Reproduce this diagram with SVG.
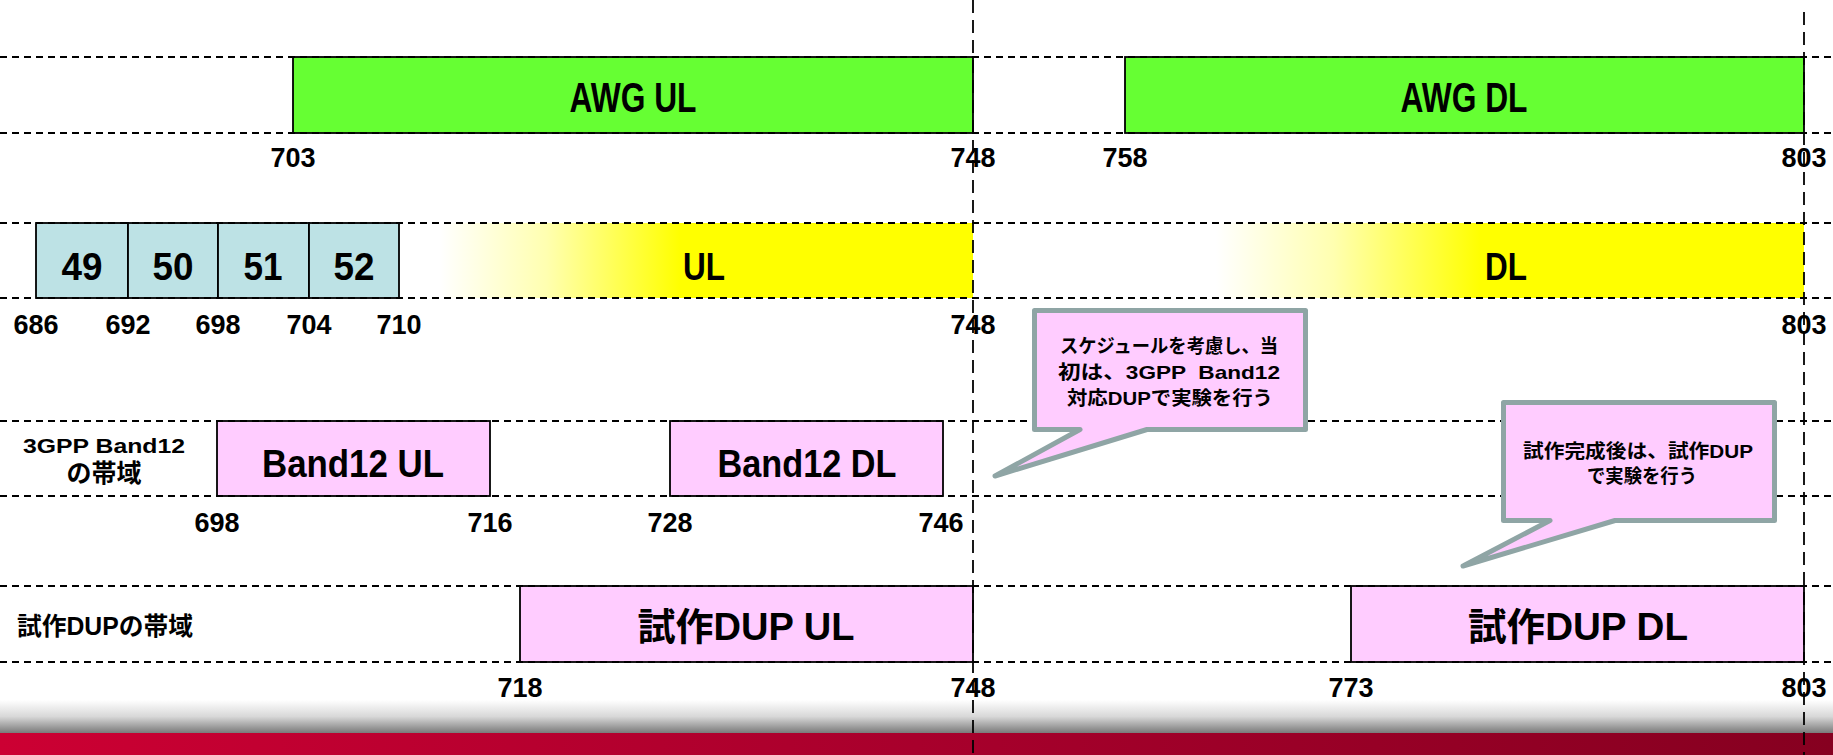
<svg xmlns="http://www.w3.org/2000/svg" width="1833" height="755" viewBox="0 0 1833 755">
<defs>
<linearGradient id="yfade" x1="0" y1="0" x2="1" y2="0">
<stop offset="0" stop-color="#ffffff"/>
<stop offset="0.2" stop-color="#ffffb0"/>
<stop offset="0.45" stop-color="#ffff00"/>
<stop offset="1" stop-color="#ffff00"/>
</linearGradient>
<linearGradient id="shadow" x1="0" y1="0" x2="0" y2="1">
<stop offset="0" stop-color="#ffffff"/>
<stop offset="0.5" stop-color="#d8d8d8"/>
<stop offset="1" stop-color="#7a7a7a"/>
</linearGradient>
<linearGradient id="red" x1="0" y1="0" x2="1" y2="0">
<stop offset="0" stop-color="#cc0033"/>
<stop offset="0.5" stop-color="#a8002c"/>
<stop offset="1" stop-color="#860020"/>
</linearGradient>
<style>
.box{stroke:#000;stroke-width:1.8}
.green{fill:#66ff33}
.blue{fill:#bde2e5}
.pink{fill:#ffccff}
.hd{stroke:#000;stroke-width:2;stroke-dasharray:7 5;fill:none}
.vd{stroke:#000;stroke-width:1.8;stroke-dasharray:13 7;fill:none}
.big{font-family:"Liberation Sans","Noto Sans CJK JP",sans-serif;font-weight:bold;text-anchor:middle;fill:#000}
.num{font-family:"Liberation Sans",sans-serif;font-weight:bold;font-size:27px;text-anchor:middle;fill:#000}
.lbl{font-family:"Liberation Sans","Noto Sans CJK JP",sans-serif;font-weight:bold;text-anchor:middle;fill:#000}
.call{fill:#ffccff;stroke:#8fa5a5;stroke-width:5;stroke-linejoin:round}
.ct{font-family:"Liberation Sans","Noto Sans CJK JP",sans-serif;font-weight:bold;font-size:19px;text-anchor:middle;fill:#000}
</style>
</defs>
<rect x="0" y="0" width="1833" height="755" fill="#ffffff"/>

<g id="footer">
<rect x="0" y="700" width="1833" height="33" fill="url(#shadow)"/>
<rect x="0" y="733" width="1833" height="22" fill="url(#red)"/>
</g>

<g id="awg-ul">
<rect class="box green" x="293" y="57" width="680" height="76"/>
<text class="big" x="633" y="112" font-size="42" textLength="127" lengthAdjust="spacingAndGlyphs">AWG UL</text>
</g>
<g id="awg-dl">
<rect class="box green" x="1125" y="57" width="679" height="76"/>
<text class="big" x="1464" y="112" font-size="42" textLength="127" lengthAdjust="spacingAndGlyphs">AWG DL</text>
</g>

<g id="ul">
<rect x="440" y="223" width="533" height="75" fill="url(#yfade)"/>
<text class="big" x="704" y="280" font-size="38" textLength="42" lengthAdjust="spacingAndGlyphs">UL</text>
</g>
<g id="dl">
<rect x="1216" y="223" width="588" height="75" fill="url(#yfade)"/>
<text class="big" x="1506" y="280" font-size="38" textLength="42" lengthAdjust="spacingAndGlyphs">DL</text>
</g>
<g id="ch49">
<rect class="box blue" x="36" y="223" width="92" height="75"/>
<text class="big" x="82" y="280" font-size="38" textLength="41" lengthAdjust="spacingAndGlyphs">49</text>
</g>
<g id="ch50">
<rect class="box blue" x="128" y="223" width="90" height="75"/>
<text class="big" x="173" y="280" font-size="38" textLength="41" lengthAdjust="spacingAndGlyphs">50</text>
</g>
<g id="ch51">
<rect class="box blue" x="218" y="223" width="91" height="75"/>
<text class="big" x="263" y="280" font-size="38" textLength="39" lengthAdjust="spacingAndGlyphs">51</text>
</g>
<g id="ch52">
<rect class="box blue" x="309" y="223" width="90" height="75"/>
<text class="big" x="354" y="280" font-size="38" textLength="41" lengthAdjust="spacingAndGlyphs">52</text>
</g>

<g id="band12-label">
<text class="lbl" x="104" y="453" font-size="21" textLength="162" lengthAdjust="spacingAndGlyphs">3GPP Band12</text>
<text class="lbl" x="104" y="482" font-size="25">の帯域</text>
</g>
<g id="band12-ul">
<rect class="box pink" x="217" y="421" width="273" height="75"/>
<text class="big" x="353" y="477" font-size="38" textLength="182" lengthAdjust="spacingAndGlyphs">Band12 UL</text>
</g>
<g id="band12-dl">
<rect class="box pink" x="670" y="421" width="273" height="75"/>
<text class="big" x="807" y="477" font-size="38" textLength="179" lengthAdjust="spacingAndGlyphs">Band12 DL</text>
</g>

<g id="dup-label">
<text class="lbl" x="105" y="635" font-size="25" textLength="176" lengthAdjust="spacingAndGlyphs">試作DUPの帯域</text>
</g>
<g id="dup-ul">
<rect class="box pink" x="520" y="586" width="453" height="76"/>
<text class="big" x="746" y="640" font-size="38" textLength="217" lengthAdjust="spacingAndGlyphs">試作DUP UL</text>
</g>
<g id="dup-dl">
<rect class="box pink" x="1351" y="586" width="453" height="76"/>
<text class="big" x="1578" y="640" font-size="38" textLength="220" lengthAdjust="spacingAndGlyphs">試作DUP DL</text>
</g>

<g id="guides">
<line class="hd" x1="0" y1="57" x2="1833" y2="57"/>
<line class="hd" x1="0" y1="133" x2="1833" y2="133"/>
<line class="hd" x1="0" y1="223" x2="1833" y2="223"/>
<line class="hd" x1="0" y1="298" x2="1833" y2="298"/>
<line class="hd" x1="0" y1="421" x2="1833" y2="421"/>
<line class="hd" x1="0" y1="496" x2="1833" y2="496"/>
<line class="hd" x1="0" y1="586" x2="1833" y2="586"/>
<line class="hd" x1="0" y1="662" x2="1833" y2="662"/>
<line class="vd" x1="973" y1="0" x2="973" y2="755"/>
<line class="vd" x1="1804" y1="12" x2="1804" y2="755"/>
</g>

<g id="scale-labels">
<text class="num" x="293" y="167">703</text>
<text class="num" x="973" y="167">748</text>
<text class="num" x="1125" y="167">758</text>
<text class="num" x="1804" y="167">803</text>
<text class="num" x="36" y="334">686</text>
<text class="num" x="128" y="334">692</text>
<text class="num" x="218" y="334">698</text>
<text class="num" x="309" y="334">704</text>
<text class="num" x="399" y="334">710</text>
<text class="num" x="973" y="334">748</text>
<text class="num" x="1804" y="334">803</text>
<text class="num" x="217" y="532">698</text>
<text class="num" x="490" y="532">716</text>
<text class="num" x="670" y="532">728</text>
<text class="num" x="941" y="532">746</text>
<text class="num" x="520" y="697">718</text>
<text class="num" x="973" y="697">748</text>
<text class="num" x="1351" y="697">773</text>
<text class="num" x="1804" y="697">803</text>
</g>

<g id="callout-1">
<path class="call" d="M1034.5,310.5 H1305.5 V429.5 H1147 L995,476 L1080,429.5 H1034.5 Z"/>
<text class="ct" x="1169" y="353" textLength="218" lengthAdjust="spacingAndGlyphs">スケジュールを考慮し、当</text>
<text class="ct" x="1169" y="379" textLength="222" lengthAdjust="spacingAndGlyphs" xml:space="preserve">初は、3GPP  Band12</text>
<text class="ct" x="1170" y="405" textLength="206" lengthAdjust="spacingAndGlyphs">対応DUPで実験を行う</text>
</g>
<g id="callout-2">
<path class="call" d="M1503.5,402.5 H1774.5 V520.5 H1615 L1463,566 L1550,520.5 H1503.5 Z"/>
<text class="ct" x="1638" y="458" textLength="230" lengthAdjust="spacingAndGlyphs">試作完成後は、試作DUP</text>
<text class="ct" x="1642" y="483" textLength="110" lengthAdjust="spacingAndGlyphs">で実験を行う</text>
</g>
</svg>
